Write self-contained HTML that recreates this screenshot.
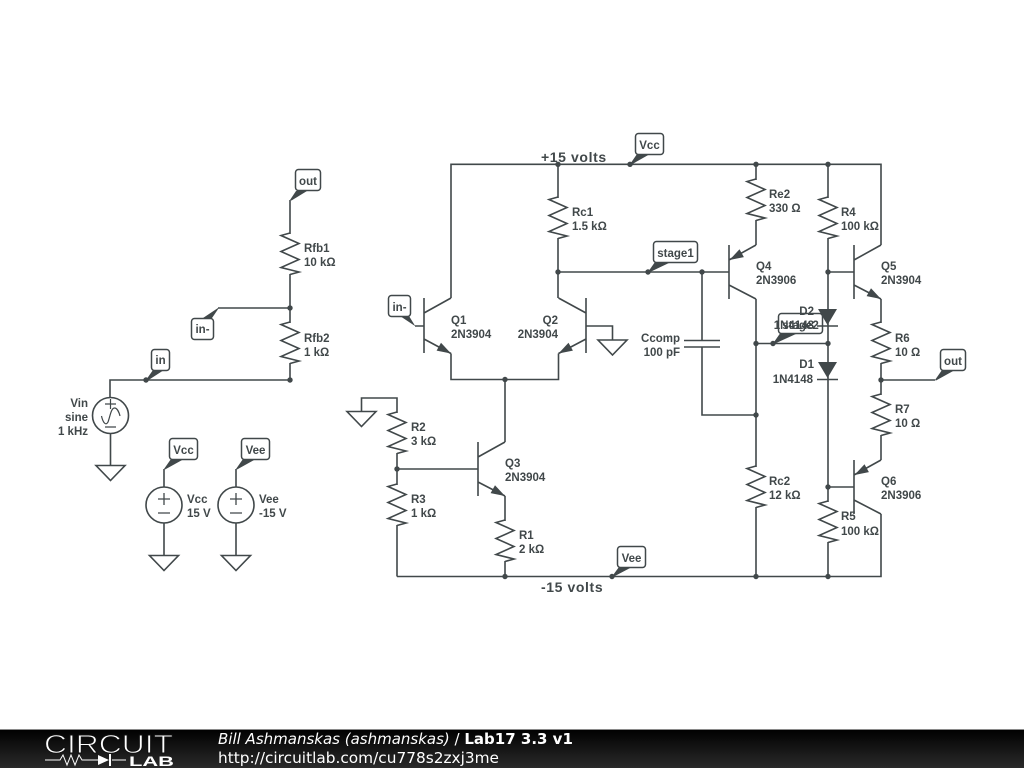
<!DOCTYPE html>
<html><head><meta charset="utf-8"><style>
html,body{margin:0;padding:0;background:#fff}
svg{display:block}
.w{fill:none;stroke:#41484a;stroke-width:1.6}
.f{fill:#41484a;stroke:none}
.tag{fill:#fff;stroke:#41484a;stroke-width:1.5}
text{font-family:"Liberation Sans",sans-serif;font-weight:bold;font-size:11.5px;fill:#41484a}
.e{text-anchor:end}.m{text-anchor:middle}
.b{font-size:14px;letter-spacing:.6px}
.ft{font-family:"DejaVu Sans",sans-serif;font-size:15px;font-weight:normal;fill:#fff}
</style></head><body>
<svg width="1024" height="768" viewBox="0 0 1024 768" xmlns="http://www.w3.org/2000/svg">
<defs>
<path id="r" class="w" d="M0,-21L-9,-18.500L9,-10.500L-9,-2.500L9,5.500L-9,13.500L9,18L0,20.500"/>
<polygon id="an" class="f" points="0,0 -14.4,-2.9 -10,-10.7"/>
<polygon id="ap" class="f" points="0,0 14.4,-2.9 10,-10.7"/>
<path id="g" class="w" d="M-14.5,0H14.5L0,15Z"/>
<linearGradient id="fg" x1="0" y1="0" x2="0" y2="1"><stop offset="0" stop-color="#000"/><stop offset="1" stop-color="#2a2a2a"/></linearGradient>
</defs>

<!-- left feedback -->
<path class="w" d="M290,200V234M290,274V323M218,308H290M290,363V380H110V397"/>
<use href="#r" x="290" y="254"/><use href="#r" x="290" y="343"/>
<polygon class="f" points="290,200 296,191 307,191 291.500,200.500"/>
<rect class="tag" x="295.500" y="169.500" width="25" height="21" rx="3"/>
<text class="m" x="308" y="185">out</text>
<polygon class="f" points="218,308 203,318 212,318 218.500,308.500"/>
<rect class="tag" x="191.500" y="318.500" width="22" height="21" rx="3"/>
<text class="m" x="202.500" y="333">in-</text>
<polygon class="f" points="146,380 153,370 164,370 147,381"/>
<rect class="tag" x="151.500" y="349.500" width="18" height="21" rx="3"/>
<text class="m" x="160.500" y="364">in</text>
<circle class="f" cx="290" cy="308" r="2.700"/><circle class="f" cx="290" cy="380" r="2.700"/><circle class="f" cx="146" cy="380" r="2.700"/>
<text x="304" y="252">Rfb1</text><text x="304" y="266">10 kΩ</text>
<text x="304" y="342">Rfb2</text><text x="304" y="356">1 kΩ</text>

<!-- Vin -->
<circle class="w" cx="110.500" cy="415.500" r="18"/>
<path class="w" d="M110.500,433.500V465"/>
<use href="#g" x="110.500" y="465.500"/>
<path class="w" style="stroke-width:1.200" d="M105,404H116M110.500,399V409M105,427H116"/>
<path class="w" style="stroke-width:1.200" d="M101.500,416C103,423 106,426 108,422C110,417 111,408 114.500,408C117,408 119,412 120,416"/>
<text class="e" x="88" y="407">Vin</text><text class="e" x="88" y="421">sine</text><text class="e" x="88" y="435">1 kHz</text>

<!-- Vcc Vee sources -->
<path class="w" d="M164,469V487M164,523V555M236,469V487M236,523V555"/>
<circle class="w" cx="164" cy="505" r="18"/><circle class="w" cx="236" cy="505" r="18"/>
<path class="w" style="stroke-width:1.300" d="M158,499H170M164,493V505M158,513H170M230,499H242M236,493V505M230,513H242"/>
<use href="#g" x="164" y="555.500"/><use href="#g" x="236" y="555.500"/>
<polygon class="f" points="164,469 171,459 184,459 165,469.500"/>
<rect class="tag" x="169.500" y="438.500" width="28" height="21" rx="3"/>
<text class="m" x="183.500" y="454">Vcc</text>
<polygon class="f" points="236,469 243,459 256,459 237,469.500"/>
<rect class="tag" x="241.500" y="438.500" width="28" height="21" rx="3"/>
<text class="m" x="255.500" y="454">Vee</text>
<text x="187" y="503">Vcc</text><text x="187" y="517">15 V</text>
<text x="259" y="503">Vee</text><text x="259" y="517">-15 V</text>

<!-- main wires -->
<path class="w" d="M451,298V164.300H881V245M558,164V198M558,238V298M558,272H729M702,272V340M702,347V415H756"/>
<path class="w" d="M451,353.500V379.500H558.500V353.500M505,380V442M505,496V521M505,561V576.500M397,576.500H881V514M397,525V576.500M397,453V485M397,469H478M397,413V398H361.500V411.500"/>
<path class="w" d="M756,164V180M756,220V245M756,299V467M756,507V576.500M828,164V198M828,238V502M828,542V576.500M756,343.500H828M828,272H854M828,487H854"/>
<path class="w" d="M881,299V323M881,363V395M881,435V460M881,380H935"/>
<use href="#r" x="558" y="218"/><use href="#r" x="397" y="433"/><use href="#r" x="397" y="505"/><use href="#r" x="505" y="541"/>
<use href="#r" x="756" y="200"/><use href="#r" x="756" y="487"/><use href="#r" x="828" y="218"/><use href="#r" x="828" y="522"/>
<use href="#r" x="881" y="343"/><use href="#r" x="881" y="415"/>
<use href="#g" x="361.500" y="411.500"/>

<!-- transistors -->
<path class="w" d="M424,298V353M415,326H424M424,313L451,298M424,339L451,353.500"/><use href="#an" x="451" y="353.500"/>
<path class="w" d="M586,298V353M586,326H612.500V340M586,313L558.500,298M586,339L558.500,353.500"/><use href="#ap" x="558.500" y="353.500"/>
<use href="#g" x="612.500" y="340"/>
<path class="w" d="M478,442V496M478,457L505,442M478,482L505,496"/><use href="#an" x="505" y="496"/>
<path class="w" d="M729,245V299M729,260L756,245M729,285L756,299"/><use href="#ap" x="729.500" y="260"/>
<path class="w" d="M854,245V299M854,260L881,245M854,285L881,299"/><use href="#an" x="881" y="299"/>
<path class="w" d="M854,460V514M854,475L881,460M854,500L881,514"/><use href="#ap" x="854.500" y="475"/>

<!-- cap -->
<path class="w" d="M684,340.500H720M684,347H720"/>

<!-- diodes -->
<polygon class="f" points="818,309 837,309 827.500,325"/>
<path class="w" d="M817,326H838"/>
<polygon class="f" points="818,362 837,362 827.500,378"/>
<path class="w" d="M817,379.500H838"/>
<text class="e" x="814" y="315">D2</text>
<text class="e" x="814" y="329">1N4148</text>
<text class="e" x="814" y="368">D1</text>
<text class="e" x="813" y="383">1N4148</text>

<!-- dots -->
<g class="f">
<circle cx="558" cy="164.300" r="2.700"/><circle cx="630" cy="164.300" r="2.700"/><circle cx="756" cy="164.300" r="2.700"/><circle cx="828" cy="164.300" r="2.700"/>
<circle cx="558" cy="272" r="2.700"/><circle cx="648" cy="272" r="2.700"/><circle cx="702" cy="272" r="2.700"/><circle cx="828" cy="272" r="2.700"/>
<circle cx="505" cy="379.500" r="2.700"/><circle cx="397" cy="469" r="2.700"/>
<circle cx="505" cy="576.500" r="2.700"/><circle cx="612" cy="576.500" r="2.700"/><circle cx="756" cy="576.500" r="2.700"/><circle cx="828" cy="576.500" r="2.700"/>
<circle cx="756" cy="343.500" r="2.700"/><circle cx="773" cy="343.500" r="2.700"/><circle cx="828" cy="343.500" r="2.700"/>
<circle cx="756" cy="415" r="2.700"/><circle cx="881" cy="380" r="2.700"/><circle cx="828" cy="487" r="2.700"/>
</g>

<!-- tags -->
<polygon class="f" points="630,164.300 637,154 650,154 631,164.800"/>
<rect class="tag" x="635.500" y="133.500" width="28" height="21" rx="3"/>
<text class="m" x="649.500" y="149">Vcc</text>
<polygon class="f" points="648,272 655,262 671,262 649,272.500"/>
<rect class="tag" x="653.500" y="241.500" width="44" height="21" rx="3"/>
<text class="m" x="675.500" y="257">stage1</text>
<polygon class="f" points="415,326 400,316 409,316 415.500,326.500"/>
<rect class="tag" x="388.500" y="295.500" width="22" height="21" rx="3"/>
<text class="m" x="399.500" y="311">in-</text>
<polygon class="f" points="612,576.500 619,567 632,567 613,577"/>
<rect class="tag" x="617.500" y="546.500" width="28" height="21" rx="3"/>
<text class="m" x="631.500" y="562">Vee</text>
<polygon class="f" points="935,380 942,370 955,370 936,380.500"/>
<rect class="tag" x="940.500" y="349.500" width="25" height="21" rx="3"/>
<text class="m" x="953" y="365">out</text>
<polygon class="f" points="773,343.500 780,333.500 797,333.500 774,344"/>
<rect x="778.500" y="313.500" width="44" height="20" rx="3" fill="none" stroke="#41484a" stroke-width="1.500"/>
<text class="m" x="800.500" y="329">stage2</text>

<!-- labels -->
<text class="b" x="541" y="162">+15 volts</text>
<text class="b" x="541" y="592">-15 volts</text>
<text x="572" y="216">Rc1</text><text x="572" y="230">1.5 kΩ</text>
<text x="451" y="324">Q1</text><text x="451" y="338">2N3904</text>
<text class="e" x="558" y="324">Q2</text><text class="e" x="558" y="338">2N3904</text>
<text x="505" y="467">Q3</text><text x="505" y="481">2N3904</text>
<text x="411" y="431">R2</text><text x="411" y="445">3 kΩ</text>
<text x="411" y="503">R3</text><text x="411" y="517">1 kΩ</text>
<text x="519" y="539">R1</text><text x="519" y="553">2 kΩ</text>
<text x="769" y="198">Re2</text><text x="769" y="212">330 Ω</text>
<text x="841" y="216">R4</text><text x="841" y="230">100 kΩ</text>
<text x="756" y="270">Q4</text><text x="756" y="284">2N3906</text>
<text x="881" y="270">Q5</text><text x="881" y="284">2N3904</text>
<text x="881" y="485">Q6</text><text x="881" y="499">2N3906</text>
<text x="895" y="342">R6</text><text x="895" y="356">10 Ω</text>
<text x="895" y="413">R7</text><text x="895" y="427">10 Ω</text>
<text x="769" y="485">Rc2</text><text x="769" y="499">12 kΩ</text>
<text x="841" y="520">R5</text><text x="841" y="535">100 kΩ</text>
<text class="e" x="680" y="342">Ccomp</text><text class="e" x="680" y="356">100 pF</text>

<!-- footer -->
<rect x="0" y="729" width="1024" height="39" fill="url(#fg)"/>
<rect x="0" y="729" width="1024" height="1" fill="#8a8a8a"/>
<text x="44" y="753" textLength="129" lengthAdjust="spacingAndGlyphs" style="font-size:26px;font-weight:normal;fill:#fff;stroke:#111;stroke-width:.9;paint-order:normal">CIRCUIT</text>
<text x="129" y="766" textLength="45" lengthAdjust="spacingAndGlyphs" style="font-size:14px;fill:#fff">LAB</text>
<path d="M45,760H60L63,755L67,765L71,755L75,765L79,755L82,760H98M112,760H126" fill="none" stroke="#fff" stroke-width="1"/>
<polygon points="98,755 98,765 109,760" fill="#fff"/><rect x="109" y="754" width="2" height="12" fill="#fff"/>
<text class="ft" x="218" y="744"><tspan font-style="italic">Bill Ashmanskas (ashmanskas)</tspan> / <tspan font-weight="bold">Lab17 3.3 v1</tspan></text>
<text class="ft" x="218" y="763" textLength="281" lengthAdjust="spacingAndGlyphs">http://circuitlab.com/cu778s2zxj3me</text>
</svg>
</body></html>
